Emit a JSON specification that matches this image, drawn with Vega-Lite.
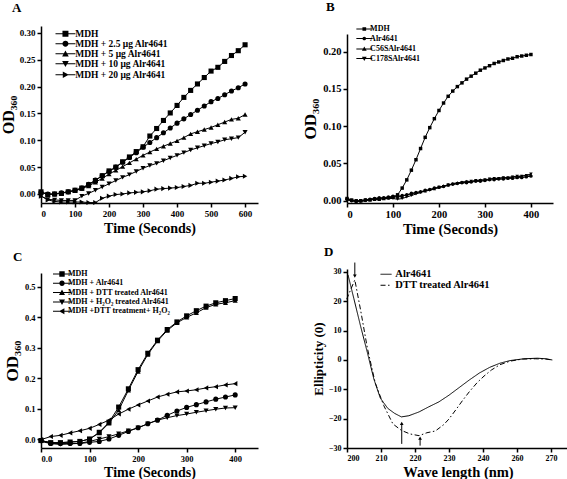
{
  "$schema": "https://vega.github.io/schema/vega-lite/v6.json",
  "background": "white",
  "padding": {"left": 0, "top": 1, "right": 0, "bottom": 0},
  "config": {
    "font": "Liberation Serif",
    "view": {"stroke": null},
    "axis": {"labelFont": "Liberation Serif", "labelFontWeight": "bold", "labelColor": "black", "titleFont": "Liberation Serif", "titleFontWeight": "bold", "titleColor": "black", "domainColor": "black", "tickColor": "black", "domainWidth": 1.5, "tickWidth": 1.5, "tickSize": 4, "grid": false, "labelPadding": 2, "titlePadding": 3, "labelOverlap": false},
    "legend": {"labelFont": "Liberation Serif", "labelFontWeight": "bold", "labelColor": "black", "padding": 0, "symbolFillColor": "black", "symbolStrokeColor": "black", "symbolStrokeWidth": 1, "symbolOpacity": 1, "orient": "none"},
    "title": {"font": "Liberation Serif", "fontWeight": "bold", "color": "black", "fontSize": 13, "anchor": "start", "frame": "group", "baseline": "alphabetic"}
  },
  "datasets": {
    "dA": [
      {"s":"MDH","t":0,"v":0.004},{"s":"MDH","t":20,"v":-0.001},{"s":"MDH","t":40,"v":0.000},{"s":"MDH","t":60,"v":0.001},{"s":"MDH","t":80,"v":0.004},{"s":"MDH","t":100,"v":0.007},{"s":"MDH","t":120,"v":0.011},{"s":"MDH","t":140,"v":0.017},{"s":"MDH","t":160,"v":0.025},{"s":"MDH","t":180,"v":0.034},{"s":"MDH","t":200,"v":0.043},{"s":"MDH","t":220,"v":0.050},{"s":"MDH","t":240,"v":0.060},{"s":"MDH","t":260,"v":0.069},{"s":"MDH","t":280,"v":0.079},{"s":"MDH","t":300,"v":0.088},{"s":"MDH","t":320,"v":0.108},{"s":"MDH","t":340,"v":0.122},{"s":"MDH","t":360,"v":0.137},{"s":"MDH","t":380,"v":0.151},{"s":"MDH","t":400,"v":0.165},{"s":"MDH","t":420,"v":0.180},{"s":"MDH","t":440,"v":0.193},{"s":"MDH","t":460,"v":0.205},{"s":"MDH","t":480,"v":0.217},{"s":"MDH","t":500,"v":0.229},{"s":"MDH","t":520,"v":0.236},{"s":"MDH","t":540,"v":0.247},{"s":"MDH","t":560,"v":0.258},{"s":"MDH","t":580,"v":0.267},{"s":"MDH","t":600,"v":0.278},
      {"s":"MDH + 2.5 μg Alr4641","t":0,"v":0.003},{"s":"MDH + 2.5 μg Alr4641","t":20,"v":0.000},{"s":"MDH + 2.5 μg Alr4641","t":40,"v":0.000},{"s":"MDH + 2.5 μg Alr4641","t":60,"v":0.002},{"s":"MDH + 2.5 μg Alr4641","t":80,"v":0.004},{"s":"MDH + 2.5 μg Alr4641","t":100,"v":0.007},{"s":"MDH + 2.5 μg Alr4641","t":120,"v":0.011},{"s":"MDH + 2.5 μg Alr4641","t":140,"v":0.018},{"s":"MDH + 2.5 μg Alr4641","t":160,"v":0.026},{"s":"MDH + 2.5 μg Alr4641","t":180,"v":0.034},{"s":"MDH + 2.5 μg Alr4641","t":200,"v":0.042},{"s":"MDH + 2.5 μg Alr4641","t":220,"v":0.050},{"s":"MDH + 2.5 μg Alr4641","t":240,"v":0.059},{"s":"MDH + 2.5 μg Alr4641","t":260,"v":0.068},{"s":"MDH + 2.5 μg Alr4641","t":280,"v":0.077},{"s":"MDH + 2.5 μg Alr4641","t":300,"v":0.087},{"s":"MDH + 2.5 μg Alr4641","t":320,"v":0.096},{"s":"MDH + 2.5 μg Alr4641","t":340,"v":0.105},{"s":"MDH + 2.5 μg Alr4641","t":360,"v":0.114},{"s":"MDH + 2.5 μg Alr4641","t":380,"v":0.123},{"s":"MDH + 2.5 μg Alr4641","t":400,"v":0.132},{"s":"MDH + 2.5 μg Alr4641","t":420,"v":0.140},{"s":"MDH + 2.5 μg Alr4641","t":440,"v":0.148},{"s":"MDH + 2.5 μg Alr4641","t":460,"v":0.156},{"s":"MDH + 2.5 μg Alr4641","t":480,"v":0.164},{"s":"MDH + 2.5 μg Alr4641","t":500,"v":0.172},{"s":"MDH + 2.5 μg Alr4641","t":520,"v":0.178},{"s":"MDH + 2.5 μg Alr4641","t":540,"v":0.185},{"s":"MDH + 2.5 μg Alr4641","t":560,"v":0.192},{"s":"MDH + 2.5 μg Alr4641","t":580,"v":0.198},{"s":"MDH + 2.5 μg Alr4641","t":600,"v":0.205},
      {"s":"MDH + 5 μg Alr4641","t":0,"v":0.003},{"s":"MDH + 5 μg Alr4641","t":20,"v":-0.001},{"s":"MDH + 5 μg Alr4641","t":40,"v":0.000},{"s":"MDH + 5 μg Alr4641","t":60,"v":0.002},{"s":"MDH + 5 μg Alr4641","t":80,"v":0.004},{"s":"MDH + 5 μg Alr4641","t":100,"v":0.006},{"s":"MDH + 5 μg Alr4641","t":120,"v":0.010},{"s":"MDH + 5 μg Alr4641","t":140,"v":0.015},{"s":"MDH + 5 μg Alr4641","t":160,"v":0.022},{"s":"MDH + 5 μg Alr4641","t":180,"v":0.029},{"s":"MDH + 5 μg Alr4641","t":200,"v":0.037},{"s":"MDH + 5 μg Alr4641","t":220,"v":0.044},{"s":"MDH + 5 μg Alr4641","t":240,"v":0.051},{"s":"MDH + 5 μg Alr4641","t":260,"v":0.058},{"s":"MDH + 5 μg Alr4641","t":280,"v":0.065},{"s":"MDH + 5 μg Alr4641","t":300,"v":0.072},{"s":"MDH + 5 μg Alr4641","t":320,"v":0.078},{"s":"MDH + 5 μg Alr4641","t":340,"v":0.084},{"s":"MDH + 5 μg Alr4641","t":360,"v":0.089},{"s":"MDH + 5 μg Alr4641","t":380,"v":0.094},{"s":"MDH + 5 μg Alr4641","t":400,"v":0.099},{"s":"MDH + 5 μg Alr4641","t":420,"v":0.105},{"s":"MDH + 5 μg Alr4641","t":440,"v":0.112},{"s":"MDH + 5 μg Alr4641","t":460,"v":0.116},{"s":"MDH + 5 μg Alr4641","t":480,"v":0.120},{"s":"MDH + 5 μg Alr4641","t":500,"v":0.124},{"s":"MDH + 5 μg Alr4641","t":520,"v":0.129},{"s":"MDH + 5 μg Alr4641","t":540,"v":0.134},{"s":"MDH + 5 μg Alr4641","t":560,"v":0.139},{"s":"MDH + 5 μg Alr4641","t":580,"v":0.141},{"s":"MDH + 5 μg Alr4641","t":600,"v":0.148},
      {"s":"MDH + 10 μg Alr4641","t":0,"v":-0.004},{"s":"MDH + 10 μg Alr4641","t":20,"v":-0.010},{"s":"MDH + 10 μg Alr4641","t":40,"v":-0.011},{"s":"MDH + 10 μg Alr4641","t":60,"v":-0.012},{"s":"MDH + 10 μg Alr4641","t":80,"v":-0.012},{"s":"MDH + 10 μg Alr4641","t":100,"v":-0.012},{"s":"MDH + 10 μg Alr4641","t":120,"v":-0.004},{"s":"MDH + 10 μg Alr4641","t":140,"v":0.001},{"s":"MDH + 10 μg Alr4641","t":160,"v":0.007},{"s":"MDH + 10 μg Alr4641","t":180,"v":0.013},{"s":"MDH + 10 μg Alr4641","t":200,"v":0.019},{"s":"MDH + 10 μg Alr4641","t":220,"v":0.025},{"s":"MDH + 10 μg Alr4641","t":240,"v":0.031},{"s":"MDH + 10 μg Alr4641","t":260,"v":0.036},{"s":"MDH + 10 μg Alr4641","t":280,"v":0.042},{"s":"MDH + 10 μg Alr4641","t":300,"v":0.048},{"s":"MDH + 10 μg Alr4641","t":320,"v":0.053},{"s":"MDH + 10 μg Alr4641","t":340,"v":0.057},{"s":"MDH + 10 μg Alr4641","t":360,"v":0.062},{"s":"MDH + 10 μg Alr4641","t":380,"v":0.067},{"s":"MDH + 10 μg Alr4641","t":400,"v":0.072},{"s":"MDH + 10 μg Alr4641","t":420,"v":0.077},{"s":"MDH + 10 μg Alr4641","t":440,"v":0.082},{"s":"MDH + 10 μg Alr4641","t":460,"v":0.086},{"s":"MDH + 10 μg Alr4641","t":480,"v":0.090},{"s":"MDH + 10 μg Alr4641","t":500,"v":0.094},{"s":"MDH + 10 μg Alr4641","t":520,"v":0.097},{"s":"MDH + 10 μg Alr4641","t":540,"v":0.101},{"s":"MDH + 10 μg Alr4641","t":560,"v":0.103},{"s":"MDH + 10 μg Alr4641","t":580,"v":0.105},{"s":"MDH + 10 μg Alr4641","t":600,"v":0.115},
      {"s":"MDH + 20 μg Alr4641","t":0,"v":-0.004},{"s":"MDH + 20 μg Alr4641","t":20,"v":-0.011},{"s":"MDH + 20 μg Alr4641","t":40,"v":-0.014},{"s":"MDH + 20 μg Alr4641","t":60,"v":-0.015},{"s":"MDH + 20 μg Alr4641","t":80,"v":-0.015},{"s":"MDH + 20 μg Alr4641","t":100,"v":-0.015},{"s":"MDH + 20 μg Alr4641","t":120,"v":-0.015},{"s":"MDH + 20 μg Alr4641","t":140,"v":-0.016},{"s":"MDH + 20 μg Alr4641","t":160,"v":-0.016},{"s":"MDH + 20 μg Alr4641","t":180,"v":-0.008},{"s":"MDH + 20 μg Alr4641","t":200,"v":-0.004},{"s":"MDH + 20 μg Alr4641","t":220,"v":-0.001},{"s":"MDH + 20 μg Alr4641","t":240,"v":0.000},{"s":"MDH + 20 μg Alr4641","t":260,"v":0.002},{"s":"MDH + 20 μg Alr4641","t":280,"v":0.003},{"s":"MDH + 20 μg Alr4641","t":300,"v":0.004},{"s":"MDH + 20 μg Alr4641","t":320,"v":0.006},{"s":"MDH + 20 μg Alr4641","t":340,"v":0.009},{"s":"MDH + 20 μg Alr4641","t":360,"v":0.010},{"s":"MDH + 20 μg Alr4641","t":380,"v":0.011},{"s":"MDH + 20 μg Alr4641","t":400,"v":0.012},{"s":"MDH + 20 μg Alr4641","t":420,"v":0.014},{"s":"MDH + 20 μg Alr4641","t":440,"v":0.016},{"s":"MDH + 20 μg Alr4641","t":460,"v":0.020},{"s":"MDH + 20 μg Alr4641","t":480,"v":0.020},{"s":"MDH + 20 μg Alr4641","t":500,"v":0.022},{"s":"MDH + 20 μg Alr4641","t":520,"v":0.024},{"s":"MDH + 20 μg Alr4641","t":540,"v":0.026},{"s":"MDH + 20 μg Alr4641","t":560,"v":0.029},{"s":"MDH + 20 μg Alr4641","t":580,"v":0.032},{"s":"MDH + 20 μg Alr4641","t":600,"v":0.033}
    ],
    "dB": [
      {"s":"MDH","t":0,"v":0.003},{"s":"MDH","t":10,"v":0.001},{"s":"MDH","t":20,"v":0.000},{"s":"MDH","t":30,"v":0.000},{"s":"MDH","t":40,"v":0.001},{"s":"MDH","t":50,"v":0.001},{"s":"MDH","t":60,"v":0.002},{"s":"MDH","t":70,"v":0.002},{"s":"MDH","t":80,"v":0.003},{"s":"MDH","t":90,"v":0.004},{"s":"MDH","t":100,"v":0.005},{"s":"MDH","t":110,"v":0.008},{"s":"MDH","t":120,"v":0.017},{"s":"MDH","t":130,"v":0.028},{"s":"MDH","t":140,"v":0.041},{"s":"MDH","t":150,"v":0.055},{"s":"MDH","t":160,"v":0.070},{"s":"MDH","t":170,"v":0.085},{"s":"MDH","t":180,"v":0.098},{"s":"MDH","t":190,"v":0.110},{"s":"MDH","t":200,"v":0.121},{"s":"MDH","t":210,"v":0.131},{"s":"MDH","t":220,"v":0.140},{"s":"MDH","t":230,"v":0.147},{"s":"MDH","t":240,"v":0.153},{"s":"MDH","t":250,"v":0.158},{"s":"MDH","t":260,"v":0.163},{"s":"MDH","t":270,"v":0.167},{"s":"MDH","t":280,"v":0.171},{"s":"MDH","t":290,"v":0.175},{"s":"MDH","t":300,"v":0.178},{"s":"MDH","t":310,"v":0.181},{"s":"MDH","t":320,"v":0.184},{"s":"MDH","t":330,"v":0.186},{"s":"MDH","t":340,"v":0.188},{"s":"MDH","t":350,"v":0.190},{"s":"MDH","t":360,"v":0.191},{"s":"MDH","t":370,"v":0.193},{"s":"MDH","t":380,"v":0.194},{"s":"MDH","t":390,"v":0.195},{"s":"MDH","t":400,"v":0.196},
      {"s":"Alr4641","t":0,"v":0.002},{"s":"Alr4641","t":10,"v":0.000},{"s":"Alr4641","t":20,"v":-0.001},{"s":"Alr4641","t":30,"v":0.000},{"s":"Alr4641","t":40,"v":0.001},{"s":"Alr4641","t":50,"v":0.002},{"s":"Alr4641","t":60,"v":0.003},{"s":"Alr4641","t":70,"v":0.004},{"s":"Alr4641","t":80,"v":0.004},{"s":"Alr4641","t":90,"v":0.005},{"s":"Alr4641","t":100,"v":0.006},{"s":"Alr4641","t":110,"v":0.006},{"s":"Alr4641","t":120,"v":0.007},{"s":"Alr4641","t":130,"v":0.008},{"s":"Alr4641","t":140,"v":0.010},{"s":"Alr4641","t":150,"v":0.011},{"s":"Alr4641","t":160,"v":0.012},{"s":"Alr4641","t":170,"v":0.014},{"s":"Alr4641","t":180,"v":0.015},{"s":"Alr4641","t":190,"v":0.017},{"s":"Alr4641","t":200,"v":0.018},{"s":"Alr4641","t":210,"v":0.019},{"s":"Alr4641","t":220,"v":0.021},{"s":"Alr4641","t":230,"v":0.022},{"s":"Alr4641","t":240,"v":0.023},{"s":"Alr4641","t":250,"v":0.024},{"s":"Alr4641","t":260,"v":0.024},{"s":"Alr4641","t":270,"v":0.025},{"s":"Alr4641","t":280,"v":0.026},{"s":"Alr4641","t":290,"v":0.026},{"s":"Alr4641","t":300,"v":0.027},{"s":"Alr4641","t":310,"v":0.028},{"s":"Alr4641","t":320,"v":0.028},{"s":"Alr4641","t":330,"v":0.029},{"s":"Alr4641","t":340,"v":0.029},{"s":"Alr4641","t":350,"v":0.030},{"s":"Alr4641","t":360,"v":0.030},{"s":"Alr4641","t":370,"v":0.031},{"s":"Alr4641","t":380,"v":0.031},{"s":"Alr4641","t":390,"v":0.032},{"s":"Alr4641","t":400,"v":0.033},
      {"s":"C56SAlr4641","t":0,"v":0.003},{"s":"C56SAlr4641","t":10,"v":0.001},{"s":"C56SAlr4641","t":20,"v":0.000},{"s":"C56SAlr4641","t":30,"v":0.000},{"s":"C56SAlr4641","t":40,"v":0.001},{"s":"C56SAlr4641","t":50,"v":0.002},{"s":"C56SAlr4641","t":60,"v":0.003},{"s":"C56SAlr4641","t":70,"v":0.003},{"s":"C56SAlr4641","t":80,"v":0.004},{"s":"C56SAlr4641","t":90,"v":0.004},{"s":"C56SAlr4641","t":100,"v":0.005},{"s":"C56SAlr4641","t":110,"v":0.005},{"s":"C56SAlr4641","t":120,"v":0.006},{"s":"C56SAlr4641","t":130,"v":0.008},{"s":"C56SAlr4641","t":140,"v":0.009},{"s":"C56SAlr4641","t":150,"v":0.011},{"s":"C56SAlr4641","t":160,"v":0.012},{"s":"C56SAlr4641","t":170,"v":0.013},{"s":"C56SAlr4641","t":180,"v":0.015},{"s":"C56SAlr4641","t":190,"v":0.016},{"s":"C56SAlr4641","t":200,"v":0.018},{"s":"C56SAlr4641","t":210,"v":0.020},{"s":"C56SAlr4641","t":220,"v":0.021},{"s":"C56SAlr4641","t":230,"v":0.023},{"s":"C56SAlr4641","t":240,"v":0.024},{"s":"C56SAlr4641","t":250,"v":0.025},{"s":"C56SAlr4641","t":260,"v":0.026},{"s":"C56SAlr4641","t":270,"v":0.026},{"s":"C56SAlr4641","t":280,"v":0.027},{"s":"C56SAlr4641","t":290,"v":0.028},{"s":"C56SAlr4641","t":300,"v":0.028},{"s":"C56SAlr4641","t":310,"v":0.029},{"s":"C56SAlr4641","t":320,"v":0.030},{"s":"C56SAlr4641","t":330,"v":0.030},{"s":"C56SAlr4641","t":340,"v":0.031},{"s":"C56SAlr4641","t":350,"v":0.031},{"s":"C56SAlr4641","t":360,"v":0.032},{"s":"C56SAlr4641","t":370,"v":0.032},{"s":"C56SAlr4641","t":380,"v":0.033},{"s":"C56SAlr4641","t":390,"v":0.034},{"s":"C56SAlr4641","t":400,"v":0.035},
      {"s":"C178SAlr4641","t":0,"v":0.001},{"s":"C178SAlr4641","t":10,"v":0.000},{"s":"C178SAlr4641","t":20,"v":-0.001},{"s":"C178SAlr4641","t":30,"v":-0.001},{"s":"C178SAlr4641","t":40,"v":0.000},{"s":"C178SAlr4641","t":50,"v":0.001},{"s":"C178SAlr4641","t":60,"v":0.002},{"s":"C178SAlr4641","t":70,"v":0.002},{"s":"C178SAlr4641","t":80,"v":0.003},{"s":"C178SAlr4641","t":90,"v":0.003},{"s":"C178SAlr4641","t":100,"v":0.003},{"s":"C178SAlr4641","t":110,"v":0.002},{"s":"C178SAlr4641","t":120,"v":0.003},{"s":"C178SAlr4641","t":130,"v":0.005},{"s":"C178SAlr4641","t":140,"v":0.007},{"s":"C178SAlr4641","t":150,"v":0.009},{"s":"C178SAlr4641","t":160,"v":0.011},{"s":"C178SAlr4641","t":170,"v":0.013},{"s":"C178SAlr4641","t":180,"v":0.014},{"s":"C178SAlr4641","t":190,"v":0.016},{"s":"C178SAlr4641","t":200,"v":0.018},{"s":"C178SAlr4641","t":210,"v":0.019},{"s":"C178SAlr4641","t":220,"v":0.021},{"s":"C178SAlr4641","t":230,"v":0.022},{"s":"C178SAlr4641","t":240,"v":0.023},{"s":"C178SAlr4641","t":250,"v":0.024},{"s":"C178SAlr4641","t":260,"v":0.025},{"s":"C178SAlr4641","t":270,"v":0.026},{"s":"C178SAlr4641","t":280,"v":0.027},{"s":"C178SAlr4641","t":290,"v":0.027},{"s":"C178SAlr4641","t":300,"v":0.028},{"s":"C178SAlr4641","t":310,"v":0.029},{"s":"C178SAlr4641","t":320,"v":0.030},{"s":"C178SAlr4641","t":330,"v":0.030},{"s":"C178SAlr4641","t":340,"v":0.031},{"s":"C178SAlr4641","t":350,"v":0.031},{"s":"C178SAlr4641","t":360,"v":0.032},{"s":"C178SAlr4641","t":370,"v":0.033},{"s":"C178SAlr4641","t":380,"v":0.033},{"s":"C178SAlr4641","t":390,"v":0.034},{"s":"C178SAlr4641","t":400,"v":0.036}
    ],
    "dC": [
      {"s":"MDH","t":0,"v":-0.005},{"s":"MDH","t":20,"v":-0.012},{"s":"MDH","t":40,"v":-0.012},{"s":"MDH","t":60,"v":-0.010},{"s":"MDH","t":80,"v":-0.008},{"s":"MDH","t":100,"v":0.000},{"s":"MDH","t":120,"v":0.022},{"s":"MDH","t":140,"v":0.055},{"s":"MDH","t":160,"v":0.105},{"s":"MDH","t":180,"v":0.165},{"s":"MDH","t":200,"v":0.228},{"s":"MDH","t":220,"v":0.282},{"s":"MDH","t":240,"v":0.325},{"s":"MDH","t":260,"v":0.360},{"s":"MDH","t":280,"v":0.385},{"s":"MDH","t":300,"v":0.405},{"s":"MDH","t":320,"v":0.422},{"s":"MDH","t":340,"v":0.437},{"s":"MDH","t":360,"v":0.448},{"s":"MDH","t":380,"v":0.455},{"s":"MDH","t":400,"v":0.462},
      {"s":"MDH + Alr4641","t":0,"v":-0.005},{"s":"MDH + Alr4641","t":20,"v":-0.015},{"s":"MDH + Alr4641","t":40,"v":-0.015},{"s":"MDH + Alr4641","t":60,"v":-0.015},{"s":"MDH + Alr4641","t":80,"v":-0.015},{"s":"MDH + Alr4641","t":100,"v":-0.011},{"s":"MDH + Alr4641","t":120,"v":-0.008},{"s":"MDH + Alr4641","t":140,"v":0.000},{"s":"MDH + Alr4641","t":160,"v":0.012},{"s":"MDH + Alr4641","t":180,"v":0.025},{"s":"MDH + Alr4641","t":200,"v":0.037},{"s":"MDH + Alr4641","t":220,"v":0.050},{"s":"MDH + Alr4641","t":240,"v":0.062},{"s":"MDH + Alr4641","t":260,"v":0.078},{"s":"MDH + Alr4641","t":280,"v":0.092},{"s":"MDH + Alr4641","t":300,"v":0.104},{"s":"MDH + Alr4641","t":320,"v":0.113},{"s":"MDH + Alr4641","t":340,"v":0.122},{"s":"MDH + Alr4641","t":360,"v":0.131},{"s":"MDH + Alr4641","t":380,"v":0.138},{"s":"MDH + Alr4641","t":400,"v":0.145},
      {"s":"MDH + DTT treated Alr4641","t":0,"v":-0.005},{"s":"MDH + DTT treated Alr4641","t":20,"v":-0.012},{"s":"MDH + DTT treated Alr4641","t":40,"v":-0.012},{"s":"MDH + DTT treated Alr4641","t":60,"v":-0.010},{"s":"MDH + DTT treated Alr4641","t":80,"v":-0.008},{"s":"MDH + DTT treated Alr4641","t":100,"v":0.000},{"s":"MDH + DTT treated Alr4641","t":120,"v":0.020},{"s":"MDH + DTT treated Alr4641","t":140,"v":0.052},{"s":"MDH + DTT treated Alr4641","t":160,"v":0.095},{"s":"MDH + DTT treated Alr4641","t":180,"v":0.160},{"s":"MDH + DTT treated Alr4641","t":200,"v":0.222},{"s":"MDH + DTT treated Alr4641","t":220,"v":0.278},{"s":"MDH + DTT treated Alr4641","t":240,"v":0.322},{"s":"MDH + DTT treated Alr4641","t":260,"v":0.357},{"s":"MDH + DTT treated Alr4641","t":280,"v":0.382},{"s":"MDH + DTT treated Alr4641","t":300,"v":0.400},{"s":"MDH + DTT treated Alr4641","t":320,"v":0.415},{"s":"MDH + DTT treated Alr4641","t":340,"v":0.432},{"s":"MDH + DTT treated Alr4641","t":360,"v":0.443},{"s":"MDH + DTT treated Alr4641","t":380,"v":0.448},{"s":"MDH + DTT treated Alr4641","t":400,"v":0.455},
      {"s":"MDH + H₂O₂ treated Alr4641","t":0,"v":-0.008},{"s":"MDH + H₂O₂ treated Alr4641","t":20,"v":-0.015},{"s":"MDH + H₂O₂ treated Alr4641","t":40,"v":-0.018},{"s":"MDH + H₂O₂ treated Alr4641","t":60,"v":-0.016},{"s":"MDH + H₂O₂ treated Alr4641","t":80,"v":-0.014},{"s":"MDH + H₂O₂ treated Alr4641","t":100,"v":-0.008},{"s":"MDH + H₂O₂ treated Alr4641","t":120,"v":0.000},{"s":"MDH + H₂O₂ treated Alr4641","t":140,"v":0.008},{"s":"MDH + H₂O₂ treated Alr4641","t":160,"v":0.017},{"s":"MDH + H₂O₂ treated Alr4641","t":180,"v":0.027},{"s":"MDH + H₂O₂ treated Alr4641","t":200,"v":0.037},{"s":"MDH + H₂O₂ treated Alr4641","t":220,"v":0.050},{"s":"MDH + H₂O₂ treated Alr4641","t":240,"v":0.062},{"s":"MDH + H₂O₂ treated Alr4641","t":260,"v":0.070},{"s":"MDH + H₂O₂ treated Alr4641","t":280,"v":0.077},{"s":"MDH + H₂O₂ treated Alr4641","t":300,"v":0.082},{"s":"MDH + H₂O₂ treated Alr4641","t":320,"v":0.088},{"s":"MDH + H₂O₂ treated Alr4641","t":340,"v":0.093},{"s":"MDH + H₂O₂ treated Alr4641","t":360,"v":0.098},{"s":"MDH + H₂O₂ treated Alr4641","t":380,"v":0.102},{"s":"MDH + H₂O₂ treated Alr4641","t":400,"v":0.103},
      {"s":"MDH +DTT treatment+ H₂O₂","t":0,"v":-0.002},{"s":"MDH +DTT treatment+ H₂O₂","t":20,"v":0.008},{"s":"MDH +DTT treatment+ H₂O₂","t":40,"v":0.012},{"s":"MDH +DTT treatment+ H₂O₂","t":60,"v":0.020},{"s":"MDH +DTT treatment+ H₂O₂","t":80,"v":0.027},{"s":"MDH +DTT treatment+ H₂O₂","t":100,"v":0.035},{"s":"MDH +DTT treatment+ H₂O₂","t":120,"v":0.048},{"s":"MDH +DTT treatment+ H₂O₂","t":140,"v":0.062},{"s":"MDH +DTT treatment+ H₂O₂","t":160,"v":0.082},{"s":"MDH +DTT treatment+ H₂O₂","t":180,"v":0.098},{"s":"MDH +DTT treatment+ H₂O₂","t":200,"v":0.112},{"s":"MDH +DTT treatment+ H₂O₂","t":220,"v":0.125},{"s":"MDH +DTT treatment+ H₂O₂","t":240,"v":0.138},{"s":"MDH +DTT treatment+ H₂O₂","t":260,"v":0.147},{"s":"MDH +DTT treatment+ H₂O₂","t":280,"v":0.155},{"s":"MDH +DTT treatment+ H₂O₂","t":300,"v":0.158},{"s":"MDH +DTT treatment+ H₂O₂","t":320,"v":0.162},{"s":"MDH +DTT treatment+ H₂O₂","t":340,"v":0.168},{"s":"MDH +DTT treatment+ H₂O₂","t":360,"v":0.172},{"s":"MDH +DTT treatment+ H₂O₂","t":380,"v":0.178},{"s":"MDH +DTT treatment+ H₂O₂","t":400,"v":0.182}
    ],
    "dD": [
      {"s":"Alr4641","w":200.3,"v":29.0},{"s":"Alr4641","w":202.0,"v":21.0},{"s":"Alr4641","w":204.0,"v":11.5},{"s":"Alr4641","w":206.0,"v":2.5},{"s":"Alr4641","w":207.9,"v":-6.5},{"s":"Alr4641","w":209.8,"v":-13.0},{"s":"Alr4641","w":212.0,"v":-16.5},{"s":"Alr4641","w":214.0,"v":-18.2},{"s":"Alr4641","w":216.0,"v":-19.4},{"s":"Alr4641","w":218.2,"v":-19.0},{"s":"Alr4641","w":221.2,"v":-17.7},{"s":"Alr4641","w":224.0,"v":-16.0},{"s":"Alr4641","w":227.0,"v":-14.3},{"s":"Alr4641","w":230.0,"v":-12.0},{"s":"Alr4641","w":233.0,"v":-9.4},{"s":"Alr4641","w":236.0,"v":-6.8},{"s":"Alr4641","w":239.0,"v":-4.4},{"s":"Alr4641","w":242.0,"v":-2.5},{"s":"Alr4641","w":245.0,"v":-1.1},{"s":"Alr4641","w":248.0,"v":-0.2},{"s":"Alr4641","w":252.0,"v":0.4},{"s":"Alr4641","w":256.0,"v":0.6},{"s":"Alr4641","w":258.5,"v":0.4},{"s":"Alr4641","w":260.4,"v":0.0},
      {"s":"DTT treated Alr4641","w":199.9,"v":20.7},{"s":"DTT treated Alr4641","w":202.3,"v":27.3},{"s":"DTT treated Alr4641","w":204.0,"v":17.0},{"s":"DTT treated Alr4641","w":206.0,"v":4.0},{"s":"DTT treated Alr4641","w":208.3,"v":-7.8},{"s":"DTT treated Alr4641","w":210.8,"v":-15.5},{"s":"DTT treated Alr4641","w":213.5,"v":-21.8},{"s":"DTT treated Alr4641","w":216.0,"v":-24.0},{"s":"DTT treated Alr4641","w":218.5,"v":-25.2},{"s":"DTT treated Alr4641","w":221.2,"v":-25.8},{"s":"DTT treated Alr4641","w":223.5,"v":-24.8},{"s":"DTT treated Alr4641","w":226.0,"v":-24.2},{"s":"DTT treated Alr4641","w":228.5,"v":-22.0},{"s":"DTT treated Alr4641","w":230.0,"v":-20.1},{"s":"DTT treated Alr4641","w":232.0,"v":-17.0},{"s":"DTT treated Alr4641","w":234.0,"v":-13.8},{"s":"DTT treated Alr4641","w":236.0,"v":-10.8},{"s":"DTT treated Alr4641","w":238.3,"v":-7.7},{"s":"DTT treated Alr4641","w":240.3,"v":-5.5},{"s":"DTT treated Alr4641","w":242.5,"v":-3.4},{"s":"DTT treated Alr4641","w":245.0,"v":-1.6},{"s":"DTT treated Alr4641","w":248.0,"v":-0.4},{"s":"DTT treated Alr4641","w":251.6,"v":0.3},{"s":"DTT treated Alr4641","w":255.5,"v":0.4},{"s":"DTT treated Alr4641","w":258.5,"v":0.3},{"s":"DTT treated Alr4641","w":260.4,"v":0.0}
    ],
    "dArr": [
      {"dir":"down","w":202.3,"from":33.2,"to":28.6},
      {"dir":"up","w":216.1,"from":-28.6,"to":-21.6},
      {"dir":"up","w":221.5,"from":-29.2,"to":-26.6}
    ]
  },
  "concat": [
    {
      "width": 217, "height": 177,
      "title": {"text": "A", "dx": -29, "offset": 11},
      "data": {"name": "dA"},
      "layer": [
        {"mark": {"type": "line", "color": "black", "strokeWidth": 1},
         "encoding": {
           "x": {"field": "t", "type": "quantitative", "scale": {"domain": [0, 638], "nice": false, "zero": false}, "axis": {"values": [0,100,200,300,400,500,600], "tickCount": 30, "labelOverlap": false, "title": "Time (Seconds)", "labelFontSize": 9, "titleFontSize": 14}},
           "y": {"field": "v", "type": "quantitative", "scale": {"domain": [-0.0168, 0.313], "nice": false, "zero": false}, "axis": {"values": [0,0.05,0.1,0.15,0.2,0.25,0.3], "tickCount": 30, "labelOverlap": false, "format": ".2f", "title": "OD₃₆₀", "labelFontSize": 9, "titleFontSize": 16}},
           "detail": {"field": "s"}}},
        {"mark": {"type": "point", "filled": true, "color": "black", "size": 26, "opacity": 1},
         "encoding": {
           "x": {"field": "t", "type": "quantitative"},
           "y": {"field": "v", "type": "quantitative"},
           "shape": {"field": "s", "type": "nominal", "legend": null,
             "scale": {"domain": ["MDH","MDH + 2.5 μg Alr4641","MDH + 5 μg Alr4641","MDH + 10 μg Alr4641","MDH + 20 μg Alr4641"], "range": ["square","circle","triangle-up","triangle-down","triangle-right"]}}}},
        {"mark": {"type": "point", "filled": true, "color": "black", "size": 26, "opacity": 0},
         "encoding": {
           "x": {"field": "t", "type": "quantitative"},
           "y": {"field": "v", "type": "quantitative"},
           "shape": {"field": "s", "type": "nominal",
             "scale": {"domain": ["MDH","MDH + 2.5 μg Alr4641","MDH + 5 μg Alr4641","MDH + 10 μg Alr4641","MDH + 20 μg Alr4641"], "range": ["M-3,-0.15H3V0.15H-3ZM-0.9,-0.9H0.9V0.9H-0.9Z","M-3,-0.15H3V0.15H-3ZM0.9,0A0.9,0.9,0,1,1,-0.9,0A0.9,0.9,0,1,1,0.9,0Z","M-3,-0.15H3V0.15H-3ZM0,-1L1,0.8H-1Z","M-3,-0.15H3V0.15H-3ZM0,1L-1,-0.8H1Z","M-3,-0.15H3V0.15H-3ZM1,0L-0.8,1V-1Z"]},
             "legend": {"title": null, "legendX": 19.7, "legendY": 3, "labelFontSize": 9.5, "symbolSize": 44, "labelOffset": 5, "rowPadding": -2.2, "symbolOpacity": 1}}}}
      ],
      "resolve": {"scale": {"shape": "independent"}}
    },
    {
      "width": 206, "height": 177,
      "title": {"text": "B", "dx": -21, "offset": 11},
      "data": {"name": "dB"},
      "layer": [
        {"mark": {"type": "line", "color": "black", "strokeWidth": 1},
         "encoding": {
           "x": {"field": "t", "type": "quantitative", "scale": {"domain": [0, 448], "nice": false, "zero": false}, "axis": {"values": [0,100,200,300,400], "tickCount": 30, "labelOverlap": false, "title": "Time (Seconds)", "labelFontSize": 10.5, "titleFontSize": 14.5}},
           "y": {"field": "v", "type": "quantitative", "scale": {"domain": [-0.003, 0.2235], "range": [177, 8], "nice": false, "zero": false}, "axis": {"values": [0,0.05,0.1,0.15,0.2], "tickCount": 30, "labelOverlap": false, "format": ".2f", "title": "OD₃₆₀", "labelFontSize": 10.5, "titleFontSize": 17}},
           "detail": {"field": "s"}}},
        {"mark": {"type": "point", "filled": true, "color": "black", "size": 12, "opacity": 1},
         "encoding": {
           "x": {"field": "t", "type": "quantitative"},
           "y": {"field": "v", "type": "quantitative"},
           "shape": {"field": "s", "type": "nominal", "legend": null,
             "scale": {"domain": ["MDH","Alr4641","C56SAlr4641","C178SAlr4641"], "range": ["square","circle","triangle-up","triangle-down"]}}}},
        {"mark": {"type": "point", "filled": true, "color": "black", "size": 12, "opacity": 0},
         "encoding": {
           "x": {"field": "t", "type": "quantitative"},
           "y": {"field": "v", "type": "quantitative"},
           "shape": {"field": "s", "type": "nominal",
             "scale": {"domain": ["MDH","Alr4641","C56SAlr4641","C178SAlr4641"], "range": ["M-3,-0.2H3V0.2H-3ZM-0.7,-0.7H0.7V0.7H-0.7Z","M-3,-0.2H3V0.2H-3ZM0.7,0A0.7,0.7,0,1,1,-0.7,0A0.7,0.7,0,1,1,0.7,0Z","M-3,-0.2H3V0.2H-3ZM0,-0.9L0.9,0.7H-0.9Z","M-3,-0.2H3V0.2H-3ZM0,0.9L-0.9,-0.7H0.9Z"]},
             "legend": {"title": null, "legendX": 13.3, "legendY": -1, "labelFontSize": 8, "symbolSize": 28, "labelOffset": 1.8, "rowPadding": 1.5, "symbolOpacity": 1}}}}
      ],
      "resolve": {"scale": {"shape": "independent"}}
    },
    {
      "width": 217, "height": 179,
      "title": {"text": "C", "dx": -28, "offset": 5},
      "data": {"name": "dC"},
      "layer": [
        {"mark": {"type": "line", "color": "black", "strokeWidth": 1},
         "encoding": {
           "x": {"field": "t", "type": "quantitative", "scale": {"domain": [0, 447], "nice": false, "zero": false}, "axis": {"values": [0,100,200,300,400], "tickCount": 30, "labelOverlap": false, "labelExpr": "datum.value == 0 ? '0.0' : datum.label", "title": "Time (Seconds)", "labelFontSize": 8.5, "titleFontSize": 14}},
           "y": {"field": "v", "type": "quantitative", "scale": {"domain": [-0.0296, 0.546], "range": [179, 4], "nice": false, "zero": false}, "axis": {"values": [0,0.1,0.2,0.3,0.4,0.5], "tickCount": 30, "labelOverlap": false, "format": ".1f", "title": "OD₃₆₀", "labelFontSize": 8.5, "titleFontSize": 17}},
           "detail": {"field": "s"}}},
        {"mark": {"type": "point", "filled": true, "color": "black", "size": 26, "opacity": 1},
         "encoding": {
           "x": {"field": "t", "type": "quantitative"},
           "y": {"field": "v", "type": "quantitative"},
           "shape": {"field": "s", "type": "nominal", "legend": null,
             "scale": {"domain": ["MDH","MDH + Alr4641","MDH + DTT treated Alr4641","MDH + H₂O₂ treated Alr4641","MDH +DTT treatment+ H₂O₂"], "range": ["square","circle","triangle-up","triangle-down","triangle-left"]}}}},
        {"mark": {"type": "point", "filled": true, "color": "black", "size": 26, "opacity": 0},
         "encoding": {
           "x": {"field": "t", "type": "quantitative"},
           "y": {"field": "v", "type": "quantitative"},
           "shape": {"field": "s", "type": "nominal",
             "scale": {"domain": ["MDH","MDH + Alr4641","MDH + DTT treated Alr4641","MDH + H₂O₂ treated Alr4641","MDH +DTT treatment+ H₂O₂"], "range": ["M-3,-0.17H3V0.17H-3ZM-0.9,-0.9H0.9V0.9H-0.9Z","M-3,-0.17H3V0.17H-3ZM0.9,0A0.9,0.9,0,1,1,-0.9,0A0.9,0.9,0,1,1,0.9,0Z","M-3,-0.17H3V0.17H-3ZM0,-1L1,0.8H-1Z","M-3,-0.17H3V0.17H-3ZM0,1L-1,-0.8H1Z","M-3,-0.17H3V0.17H-3ZM-1,0L0.8,-1V1Z"]},
             "legend": {"title": null, "legendX": 17, "legendY": 1, "labelFontSize": 8, "symbolSize": 36, "labelOffset": 2, "rowPadding": -0.7, "symbolOpacity": 1}}}}
      ],
      "resolve": {"scale": {"shape": "independent"}}
    },
    {
      "width": 222, "height": 179,
      "title": {"text": "D", "dx": -23, "offset": 3},
      "layer": [
        {"data": {"name": "dD"},
         "mark": {"type": "line", "color": "black", "strokeWidth": 1},
         "encoding": {
           "x": {"field": "w", "type": "quantitative", "scale": {"domain": [200, 265.3], "nice": false, "zero": false}, "axis": {"values": [200,210,220,230,240,250,260], "tickCount": 30, "labelOverlap": false, "labelExpr": "datum.value == 250 ? '260' : datum.value == 260 ? '270' : datum.label", "title": "Wave length (nm)", "labelFontSize": 8, "titleFontSize": 14.5}},
           "y": {"field": "v", "type": "quantitative", "scale": {"domain": [-30, 31], "nice": false, "zero": false}, "axis": {"values": [-30,-20,-10,0,10,20,30], "tickCount": 30, "labelOverlap": false, "title": "Ellipticity (0)", "labelFontSize": 8, "titleFontSize": 13}},
           "strokeDash": {"field": "s", "type": "nominal", "scale": {"domain": ["Alr4641","DTT treated Alr4641"], "range": [[1,0],[5,2.5,1.5,2.5]]},
             "legend": {"title": null, "legendX": 33.8, "legendY": 0, "labelFontSize": 10.5, "symbolType": "M-1.5,0H1.5", "symbolSize": 54, "symbolStrokeWidth": 1, "labelOffset": 4, "rowPadding": -3.5}}}},
        {"data": {"name": "dArr"},
         "mark": {"type": "rule", "color": "black", "strokeWidth": 1},
         "encoding": {"x": {"field": "w", "type": "quantitative"}, "y": {"field": "from", "type": "quantitative"}, "y2": {"field": "to"}}},
        {"data": {"name": "dArr"},
         "mark": {"type": "point", "filled": true, "color": "black", "size": 14, "opacity": 1},
         "encoding": {"x": {"field": "w", "type": "quantitative"}, "y": {"field": "to", "type": "quantitative"},
           "shape": {"field": "dir", "type": "nominal", "scale": {"domain": ["down","up"], "range": ["triangle-down","triangle-up"]}, "legend": null}}}
      ]
    }
  ],
  "columns": 2,
  "spacing": {"row": 66, "column": 89},
  "bounds": "flush",
  "align": "each",
  "resolve": {"scale": {"x": "independent", "y": "independent", "shape": "independent", "strokeDash": "independent"}, "legend": {"shape": "independent", "strokeDash": "independent"}}
}
